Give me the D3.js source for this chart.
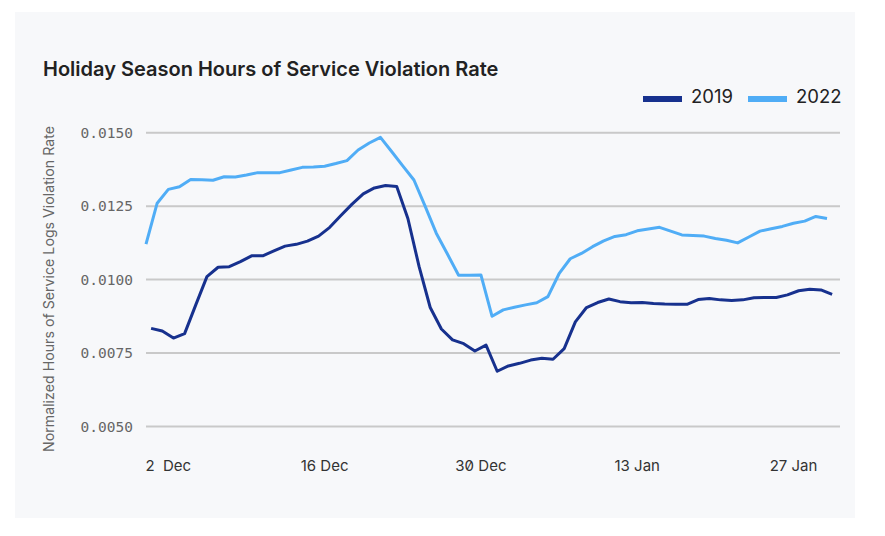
<!DOCTYPE html>
<html>
<head>
<meta charset="utf-8">
<script src="https://cdn.jsdelivr.net/npm/d3@7"></script>
<style>
  body { margin: 0; background: #fff; }
  svg { display: block; }
  .tick-x { white-space: pre; }
</style>
</head>
<body>
<div id="chart"></div>
<script>
// Data (one value per day, from 30 Nov)
const startDate = new Date(2022, 10, 30);
const offset2019Hours = 11; // 2019 line sits about half a day to the right

const values2019 = [
  0.00834, 0.00825, 0.00801, 0.00816, 0.00914, 0.01010, 0.01042, 0.01044, 0.01061, 0.01081,
  0.01081, 0.01098, 0.01114, 0.01120, 0.01131, 0.01148, 0.01178, 0.01218, 0.01257, 0.01292,
  0.01312, 0.01320, 0.01317, 0.01208, 0.01045, 0.00905, 0.00832, 0.00795, 0.00782, 0.00757,
  0.00777, 0.00688, 0.00706, 0.00715, 0.00726, 0.00732, 0.00729, 0.00765, 0.00856, 0.00905,
  0.00922, 0.00934, 0.00925, 0.00921, 0.00922, 0.00919, 0.00917, 0.00916, 0.00916, 0.00932,
  0.00936, 0.00931, 0.00929, 0.00931, 0.00938, 0.00939, 0.00939, 0.00948, 0.00962, 0.00967,
  0.00965, 0.00950
];

const values2022 = [
  0.01121, 0.01260, 0.01307, 0.01316, 0.01341, 0.01340, 0.01338, 0.01350, 0.01349, 0.01356,
  0.01364, 0.01364, 0.01364, 0.01373, 0.01382, 0.01383, 0.01386, 0.01395, 0.01405, 0.01441,
  0.01465, 0.01484, 0.01436, 0.01387, 0.01339, 0.01250, 0.01158, 0.01087, 0.01015, 0.01015,
  0.01016, 0.00875, 0.00897, 0.00906, 0.00914, 0.00921, 0.00942, 0.01020, 0.01071, 0.01089,
  0.01112, 0.01132, 0.01147, 0.01153, 0.01166, 0.01172, 0.01178, 0.01165, 0.01152, 0.01150,
  0.01148, 0.01140, 0.01134, 0.01125, 0.01145, 0.01165, 0.01173, 0.01181, 0.01192, 0.01199,
  0.01215, 0.01208
];

const yTicks = [0.0050, 0.0075, 0.0100, 0.0125, 0.0150];
const xTickDates = [new Date(2022, 11, 2), new Date(2022, 11, 16), new Date(2022, 11, 30),
                    new Date(2023, 0, 13), new Date(2023, 0, 27)];
const xTickLabels = ["2  Dec", "16 Dec", "30 Dec", "13 Jan", "27 Jan"];

const seriesNames = ["2019", "2022"];
const seriesColors = ["#17318e", "#50adf6"];

// set the dimensions
const width = 885, height = 536;

const svg = d3.select('#chart')
  .append('svg')
    .attr('width', width)
    .attr('height', height);

// panel background
svg.append('rect')
  .attr('x', 15).attr('y', 12)
  .attr('width', 840).attr('height', 506)
  .attr('fill', '#f7f8fa');

// Scales
const endDate = d3.timeDay.offset(startDate, values2022.length - 1);
const x = d3.scaleTime()
  .domain([startDate, endDate])
  .range([146, 827]);
const y = d3.scaleLinear()
  .domain([0.005, 0.015])
  .range([426.5, 132.7]);

// grid lines
svg.append('g')
  .selectAll('line')
  .data(yTicks)
  .enter()
  .append('line')
    .attr('x1', 146).attr('x2', 840)
    .attr('y1', d => y(d)).attr('y2', d => y(d))
    .attr('stroke', '#c9c9c9')
    .attr('stroke-width', 2);

// y tick labels
svg.append('g')
  .selectAll('text')
  .data(yTicks)
  .enter()
  .append('text')
    .attr('x', 133)
    .attr('y', d => y(d))
    .attr('dy', '0.36em')
    .attr('text-anchor', 'end')
    .style('font-family', '"DejaVu Sans Mono", monospace')
    .style('font-size', '14.5px')
    .attr('fill', '#666')
    .text(d => d.toFixed(4));

// x tick labels
svg.append('g')
  .selectAll('text')
  .data(xTickDates)
  .enter()
  .append('text')
    .attr('class', 'tick-x')
    .attr('x', d => x(d))
    .attr('y', 470.5)
    .attr('text-anchor', 'middle')
    .style('font-family', 'Inter, sans-serif')
    .style('font-size', '15px')
    .style('font-feature-settings', '"zero"')
    .attr('fill', '#333')
    .text((d, i) => xTickLabels[i]);

// y axis title
svg.append('text')
  .attr('transform', 'translate(54,289) rotate(-90)')
  .attr('text-anchor', 'middle')
  .style('font-family', 'Inter, sans-serif')
  .style('font-size', '14.2px')
  .attr('fill', '#666')
  .text('Normalized Hours of Service Logs Violation Rate');

// title
svg.append('text')
  .attr('x', 43).attr('y', 76)
  .style('font-family', 'Inter, sans-serif')
  .style('font-size', '20px')
  .style('font-weight', 600)
  .attr('fill', '#222')
  .text('Holiday Season Hours of Service Violation Rate');

// Lines
const series = [
  values2019.map((v, i) => ({ date: d3.timeHour.offset(d3.timeDay.offset(startDate, i), offset2019Hours), value: v })),
  values2022.map((v, i) => ({ date: d3.timeDay.offset(startDate, i), value: v }))
];

const line = d3.line()
  .x(d => x(d.date))
  .y(d => y(d.value));

svg.append('g')
  .selectAll('path')
  .data(series)
  .enter()
  .append('path')
    .attr('fill', 'none')
    .attr('stroke', (d, i) => seriesColors[i])
    .attr('stroke-width', 3)
    .attr('stroke-linejoin', 'round')
    .attr('d', line);

// Legend
const legendX = [643, 748];
const legend = svg.append('g')
  .selectAll('g')
  .data(seriesNames)
  .enter()
  .append('g')
    .attr('transform', (d, i) => 'translate(' + legendX[i] + ',0)');
legend.append('rect')
  .attr('x', 0).attr('y', 96)
  .attr('width', 39).attr('height', 6)
  .attr('fill', (d, i) => seriesColors[i]);
legend.append('text')
  .attr('x', 48).attr('y', 103)
  .style('font-family', 'Inter, sans-serif')
  .style('font-size', '18.5px')
  .attr('fill', '#222')
  .text(d => d);
</script>
</body>
</html>
